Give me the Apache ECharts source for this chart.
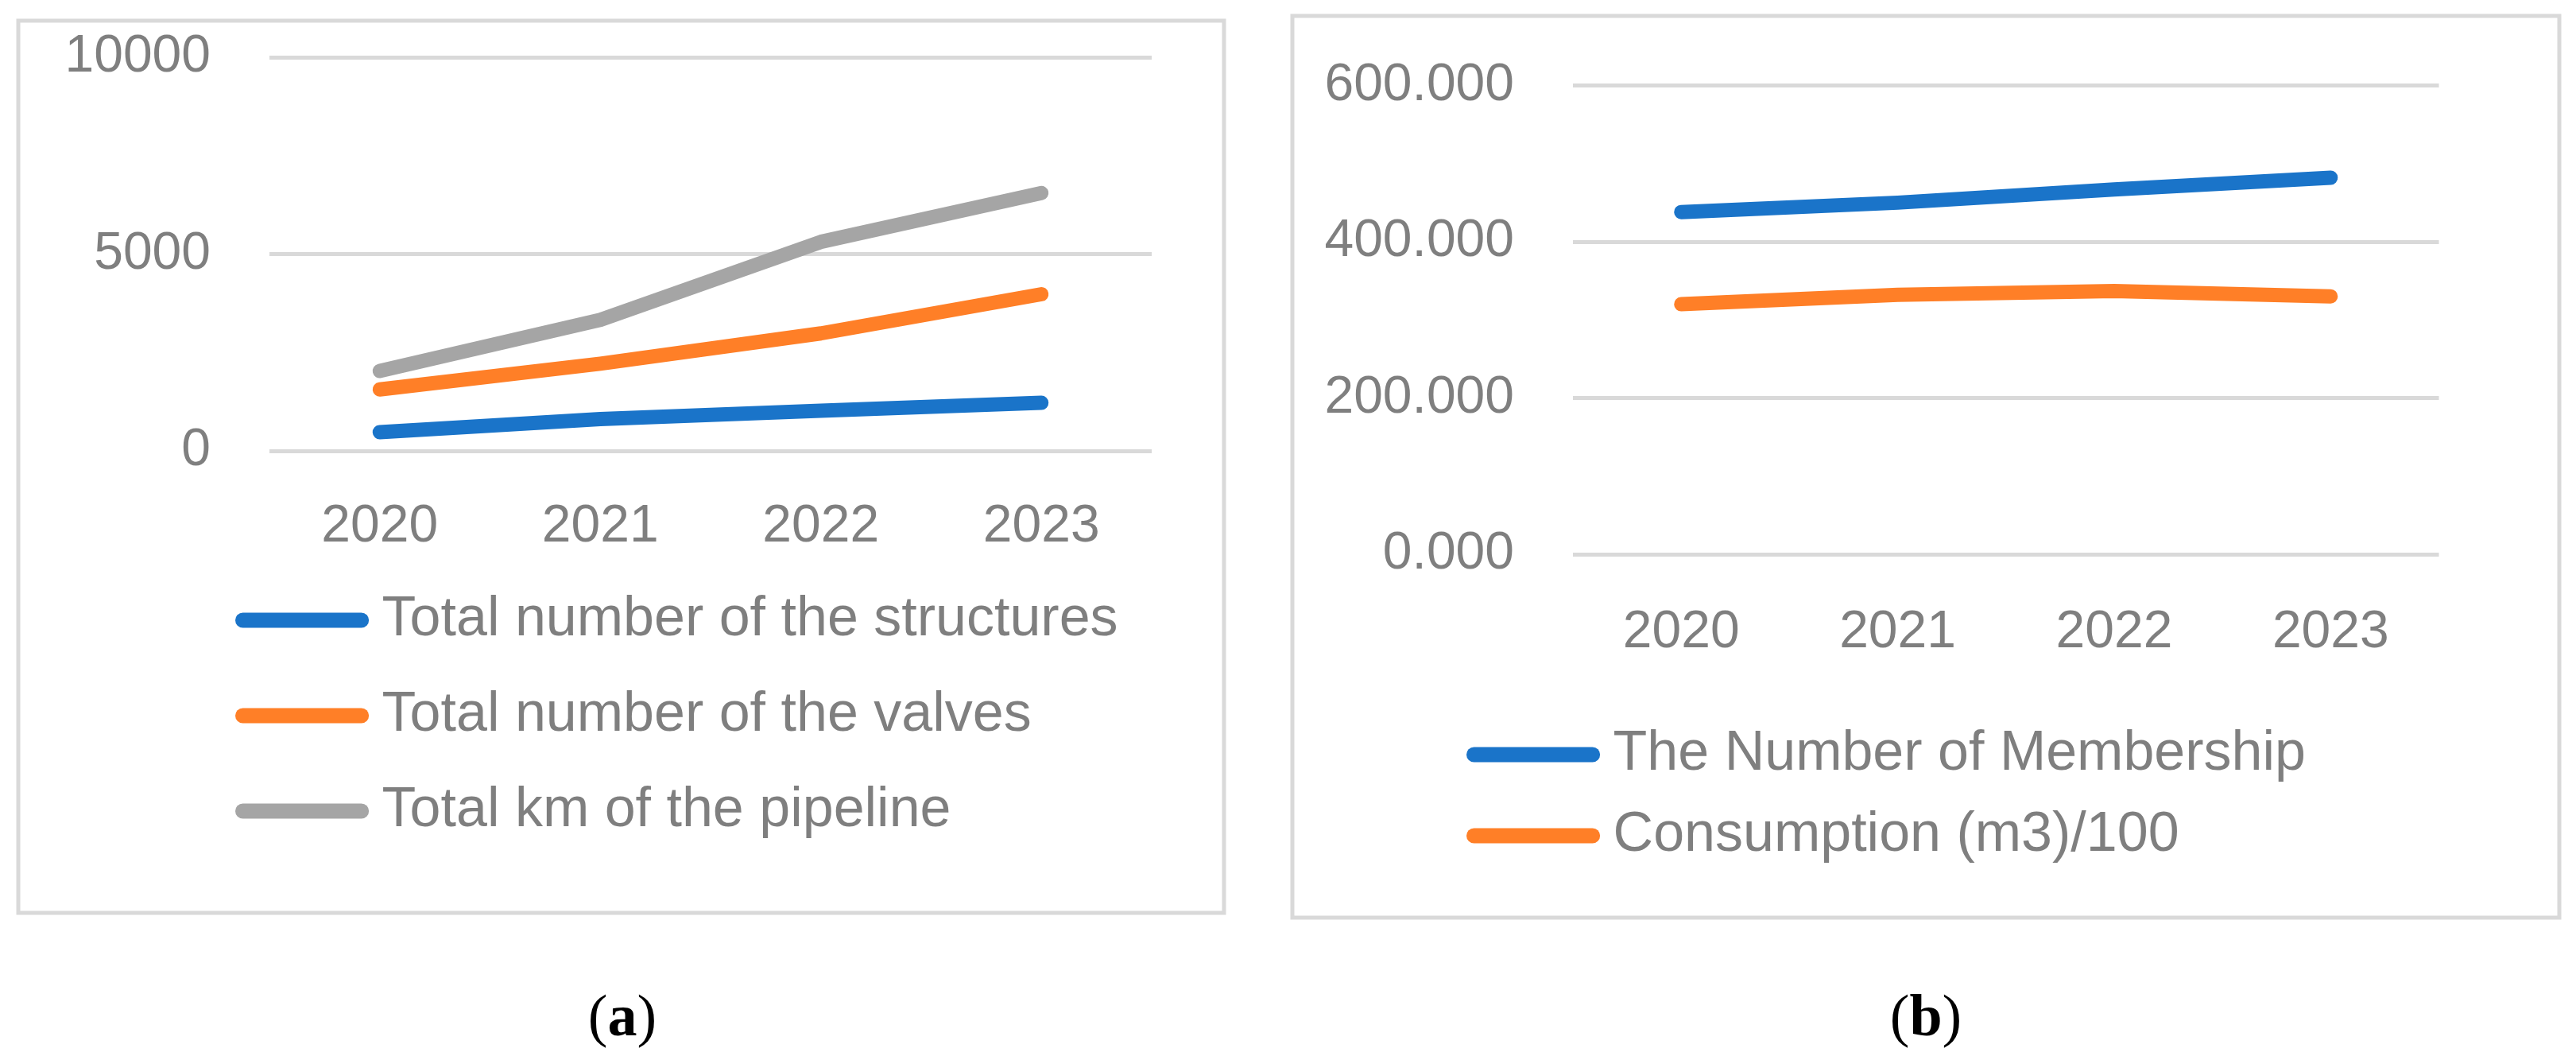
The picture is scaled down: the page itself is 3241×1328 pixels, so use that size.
<!DOCTYPE html>
<html>
<head>
<meta charset="utf-8">
<script src="https://cdn.jsdelivr.net/npm/echarts@6/dist/echarts.min.js"></script>
<style>
html,body{margin:0;padding:0;background:#fff;}
#c{width:3241px;height:1328px;}
</style>
</head>
<body>
<div id="c"></div>
<script>
// ---- data ----
const years = ['2020', '2021', '2022', '2023'];
const structures = [475, 810, 1020, 1220];
const valves = [1560, 2215, 2985, 3980];
const pipeline = [2030, 3330, 5310, 6550];
const membership = [438, 450, 467, 482];
const consumption = [320, 332, 337, 330];

const namesA = ['Total number of the structures', 'Total number of the valves', 'Total km of the pipeline'];
const namesB = ['The Number of Membership', 'Consumption (m3)/100'];

const BLUE = '#1A74C9', ORANGE = '#FF7F27', GRAY = '#A5A5A5';
const TXT = '#7F7F7F', GRID = '#D9D9D9';
const FONT = 'Liberation Sans';
const capsule = 'path://M10,0 H167 A10,10 0 0 1 167,20 H10 A10,10 0 0 1 10,0 Z';

function lineSeries(name, data, color, idx) {
  return {
    name: name, type: 'line', data: data,
    xAxisIndex: idx, yAxisIndex: idx,
    symbol: 'none', smooth: false,
    lineStyle: { color: color, width: 18, cap: 'round', join: 'round' },
    itemStyle: { color: color },
    emphasis: { disabled: true },
    animation: false
  };
}

const capRich = {
  n: { fontFamily: 'Liberation Serif', fontSize: 74, fontWeight: 'normal', color: '#000' },
  b: { fontFamily: 'Liberation Serif', fontSize: 74, fontWeight: 'bold', color: '#000' }
};

const chart = echarts.init(document.getElementById('c'));
chart.setOption({
  backgroundColor: '#fff',
  animation: false,
  textStyle: { fontFamily: FONT },
  graphic: [
    { type: 'rect', shape: { x: 23, y: 26, width: 1517, height: 1122 },
      style: { fill: 'none', stroke: GRID, lineWidth: 5 }, silent: true, z: -1 },
    { type: 'rect', shape: { x: 1626, y: 20, width: 1594, height: 1134 },
      style: { fill: 'none', stroke: GRID, lineWidth: 5 }, silent: true, z: -1 }
  ],
  title: [
    { text: '{n|(}{b|a}{n|)}', left: 778, top: 1278, textAlign: 'center', textVerticalAlign: 'middle',
      textStyle: { fontWeight: 'normal', rich: capRich } },
    { text: '{n|(}{b|b}{n|)}', left: 2418, top: 1278, textAlign: 'center', textVerticalAlign: 'middle',
      textStyle: { fontWeight: 'normal', rich: capRich } }
  ],
  legend: [
    { data: namesA, orient: 'vertical', left: 291, top: 735,
      itemWidth: 177, itemHeight: 19, itemGap: 40, icon: capsule,
      textStyle: { color: TXT, fontSize: 70, fontFamily: FONT, lineHeight: 80, padding: [0, 0, 0, 7] },
      selectedMode: false },
    { data: namesB, orient: 'vertical', left: 1840, top: 904,
      itemWidth: 177, itemHeight: 19, itemGap: 22, icon: capsule,
      textStyle: { color: TXT, fontSize: 70, fontFamily: FONT, lineHeight: 80, padding: [0, 0, 0, 7] },
      selectedMode: false }
  ],
  grid: [
    { left: 339, top: 72, width: 1110, height: 495 },
    { left: 1979, top: 107.5, width: 1089.5, height: 589.5 }
  ],
  xAxis: [
    { type: 'category', gridIndex: 0, data: years, boundaryGap: true,
      axisLine: { show: false }, axisTick: { show: false },
      axisLabel: { color: TXT, fontSize: 66, fontFamily: FONT, margin: 63 } },
    { type: 'category', gridIndex: 1, data: years, boundaryGap: true,
      axisLine: { show: false }, axisTick: { show: false },
      axisLabel: { color: TXT, fontSize: 66, fontFamily: FONT, margin: 66 } }
  ],
  yAxis: [
    { type: 'value', gridIndex: 0, min: 0, max: 10000, interval: 5000,
      axisLine: { show: false }, axisTick: { show: false },
      splitLine: { lineStyle: { color: GRID, width: 5 } },
      axisLabel: { color: TXT, fontSize: 66, fontFamily: FONT, margin: 74,
        formatter: v => String(v) } },
    { type: 'value', gridIndex: 1, min: 0, max: 600, interval: 200,
      axisLine: { show: false }, axisTick: { show: false },
      splitLine: { lineStyle: { color: GRID, width: 5 } },
      axisLabel: { color: TXT, fontSize: 66, fontFamily: FONT, margin: 74,
        formatter: v => v.toFixed(3) } }
  ],
  series: [
    lineSeries(namesA[0], structures, BLUE, 0),
    lineSeries(namesA[1], valves, ORANGE, 0),
    lineSeries(namesA[2], pipeline, GRAY, 0),
    lineSeries(namesB[0], membership, BLUE, 1),
    lineSeries(namesB[1], consumption, ORANGE, 1)
  ]
});
</script>
</body>
</html>
